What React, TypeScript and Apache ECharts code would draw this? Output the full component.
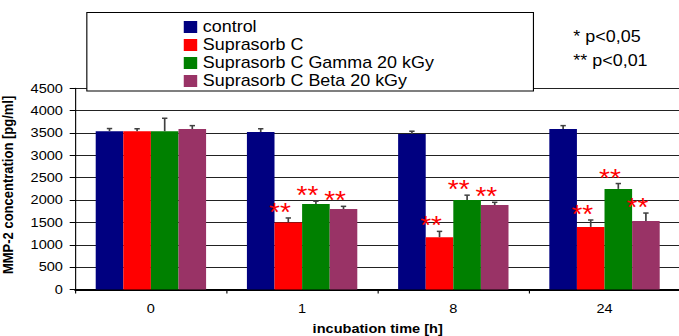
import React, { useEffect, useRef } from "react";
import * as echarts from "echarts";

// ---- data ----
const categories = ["0", "1", "8", "24"];
const seriesNames = [
  "control",
  "Suprasorb C",
  "Suprasorb C Gamma 20 kGy",
  "Suprasorb C Beta 20 kGy",
];
const controlValues = [3540, 3520, 3480, 3590];
const controlErrors = [60, 75, 60, 75];
const scValues = [3540, 1500, 1170, 1400];
const scErrors = [55, 100, 130, 155];
const gammaValues = [3540, 1910, 2000, 2250];
const gammaErrors = [290, 65, 110, 120];
const betaValues = [3590, 1800, 1890, 1530];
const betaErrors = [75, 60, 60, 180];
const controlSig = ["", "", "", ""];
const scSig = ["", "**", "**", "**"];
const gammaSig = ["", "**", "**", "**"];
const betaSig = ["", "**", "**", "**"];
const yMin = 0;
const yMax = 4500;
const yInterval = 500;
const pValueNotes = ["* p<0,05", "** p<0,01"];
const xTitle = "incubation time [h]";
const yTitle = "MMP-2 concentration [pg/ml]";

const allValues = [controlValues, scValues, gammaValues, betaValues];
const allErrors = [controlErrors, scErrors, gammaErrors, betaErrors];
const allSig = [controlSig, scSig, gammaSig, betaSig];
const colors = ["#000080", "#FF0000", "#008000", "#993366"];

const FONT = '"Liberation Sans", Arial, sans-serif';
const BASE_W = 606;
const H = 336;
const SCALE_X = 679 / BASE_W;
const CAT_GAP = 0.27;

export default function App() {
  const ref = useRef<HTMLDivElement>(null);
  useEffect(() => {
    if (!ref.current) return;
    const chart = echarts.init(ref.current, null, { renderer: "svg" });
    const n = seriesNames.length;

    const barSeries = seriesNames.map((name, i) => ({
      name,
      type: "bar",
      data: allValues[i],
      barCategoryGap: "27%",
      barGap: "0%",
      itemStyle: { color: colors[i] },
      z: 2,
    }));

    const errSeries = seriesNames.map((name, i) => ({
      name: "err-" + name,
      type: "custom",
      z: 3,
      silent: true,
      data: categories.map((_, j) => [j, allValues[i][j], allErrors[i][j]]),
      encode: { x: 0, y: 1 },
      renderItem: (params: any, api: any) => {
        const idx = api.value(0);
        const v = api.value(1);
        const e = api.value(2);
        const bw = api.size([1, 0])[0];
        const groupW = bw * (1 - CAT_GAP);
        const barW = groupW / n;
        const c = api.coord([idx, v]);
        const cx = c[0] - groupW / 2 + barW * (i + 0.5);
        const t = api.coord([idx, v + e])[1];
        const children: any[] = [
          {
            type: "line",
            shape: { x1: cx, y1: c[1], x2: cx, y2: t },
            style: { stroke: "#404040", lineWidth: 1.5 },
          },
          {
            type: "line",
            shape: { x1: cx - 2.4, y1: t, x2: cx + 2.4, y2: t },
            style: { stroke: "#404040", lineWidth: 1.5 },
          },
        ];
        const sig = allSig[i][params.dataIndex];
        if (sig) {
          children.push({
            type: "text",
            x: cx - 7.5,
            y: t - 5.5,
            style: {
              text: sig,
              fill: "#FF0000",
              font: "25px " + FONT,
              align: "center",
              verticalAlign: "middle",
            },
          });
        }
        return { type: "group", children };
      },
    }));

    chart.setOption({
      animation: false,
      grid: {
        left: 67.2,
        right: -1,
        top: 88.3,
        bottom: 46.5,
        containLabel: false,
        outerBoundsMode: "none",
      },
      legend: {
        data: seriesNames,
        orient: "vertical",
        left: 164,
        top: 18,
        padding: 0,
        itemGap: 0,
        itemWidth: 12,
        itemHeight: 12,
        icon: "rect",
        selectedMode: false,
        z: 20,
        textStyle: { fontFamily: FONT, fontSize: 16, color: "#000", lineHeight: 18 },
      },
      xAxis: {
        type: "category",
        data: categories,
        name: xTitle,
        nameLocation: "middle",
        nameGap: 33,
        nameTextStyle: { fontFamily: FONT, fontSize: 13, fontWeight: "bold", color: "#000" },
        axisLine: { lineStyle: { color: "#000", width: 2 } },
        axisTick: { show: true, length: 4, lineStyle: { color: "#000" } },
        axisLabel: { fontFamily: FONT, fontSize: 13, color: "#000", margin: 13 },
      },
      yAxis: {
        type: "value",
        min: yMin,
        max: yMax,
        interval: yInterval,
        name: yTitle,
        nameLocation: "middle",
        nameGap: 53,
        nameTextStyle: {
          fontFamily: FONT,
          fontSize: 13,
          fontWeight: "bold",
          color: "#000",
          padding: [0, 0, 0, 8],
        },
        axisLine: { show: true, lineStyle: { color: "#000", width: 1 } },
        axisTick: { show: true, length: 5, lineStyle: { color: "#000" } },
        axisLabel: {
          fontFamily: FONT,
          fontSize: 13,
          color: "#000",
          margin: 11,
          formatter: (v: number) => String(v),
        },
        splitLine: { show: true, lineStyle: { color: "#222", width: 1 } },
      },
      graphic: [
        {
          type: "rect",
          z: 10,
          shape: { x: 77.5, y: 12.5, width: 398.6, height: 78.5 },
          style: { fill: "#fff", stroke: "#000", lineWidth: 1 },
        },
        {
          type: "text",
          z: 10,
          x: 511.7,
          y: 37.2,
          style: {
            text: pValueNotes[0],
            font: "16px " + FONT,
            fill: "#000",
            verticalAlign: "middle",
          },
        },
        {
          type: "text",
          z: 10,
          x: 511.7,
          y: 61.2,
          style: {
            text: pValueNotes[1],
            font: "16px " + FONT,
            fill: "#000",
            verticalAlign: "middle",
          },
        },
      ],
      series: [...barSeries, ...errSeries],
    });
    return () => chart.dispose();
  }, []);

  return (
    <div
      ref={ref}
      style={{
        position: "absolute",
        left: 0,
        top: 0,
        width: BASE_W + "px",
        height: H + "px",
        transform: `scaleX(${SCALE_X})`,
        transformOrigin: "0 0",
      }}
    />
  );
}
